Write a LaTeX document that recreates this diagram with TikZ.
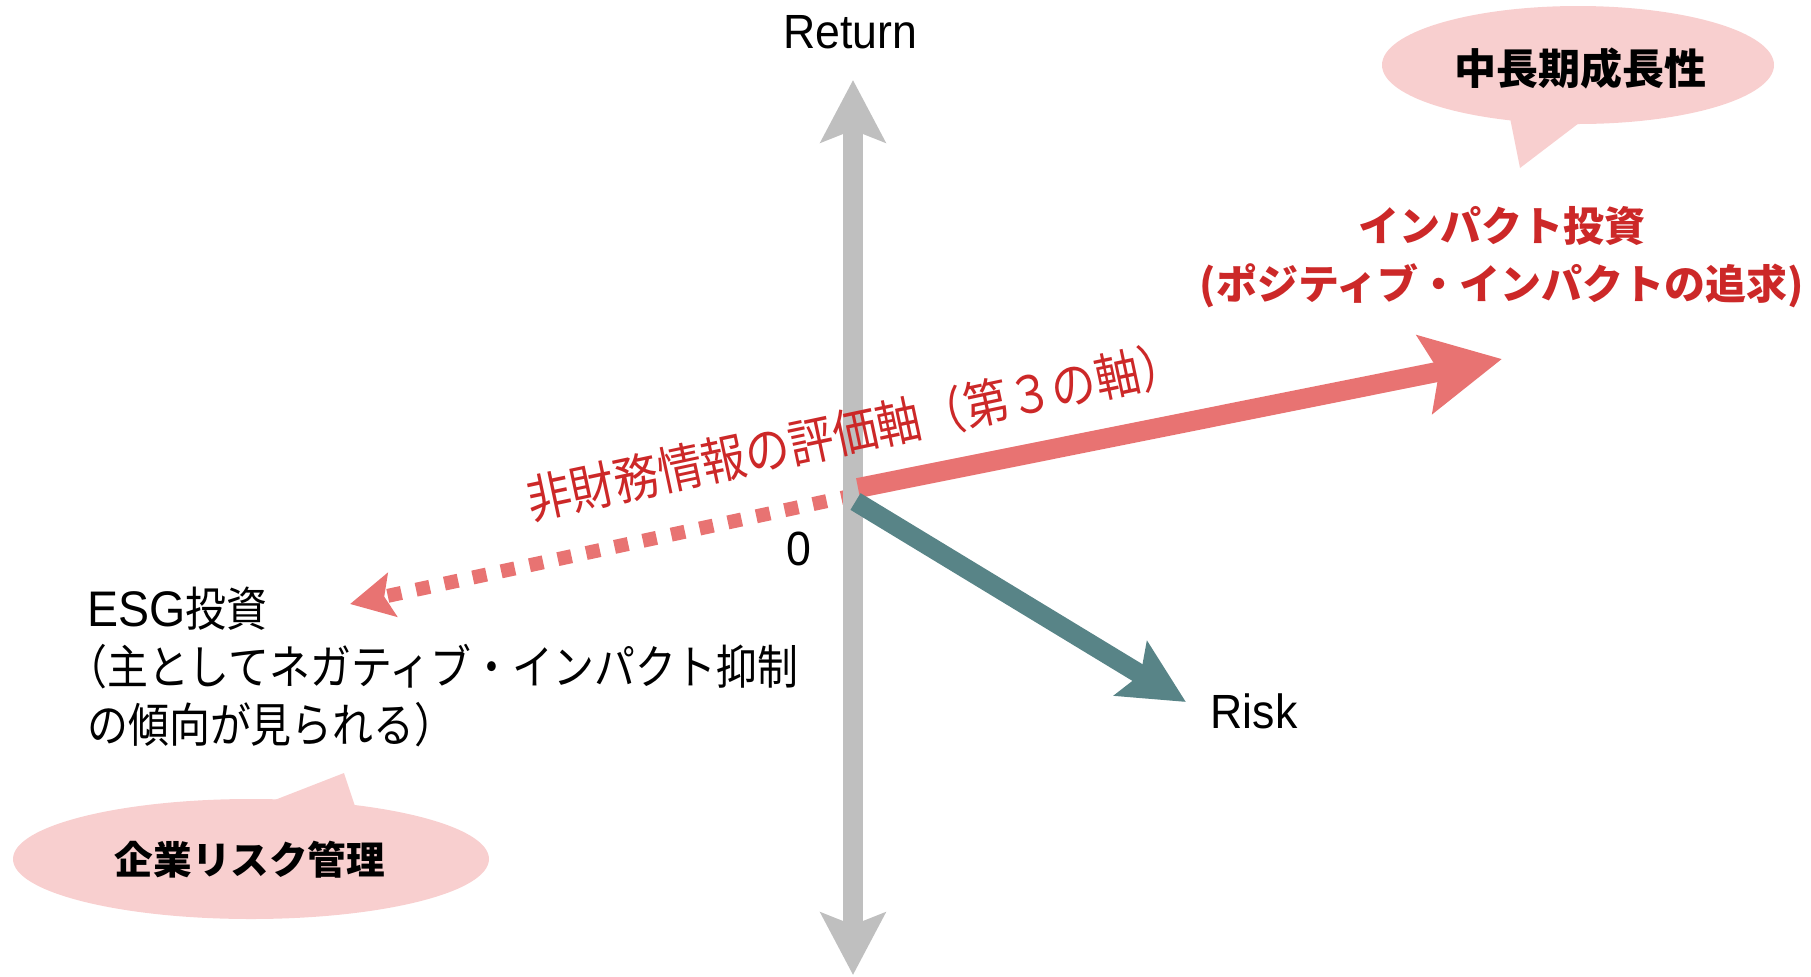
\documentclass[tikz,border=0pt]{standalone}
\usepackage{fontspec}
\setmainfont{Liberation Sans}
\newfontfamily\lat[FakeStretch=0.93]{Liberation Sans}
\newfontfamily\jp{Noto Sans CJK JP}
\newfontfamily\jpc[FakeStretch=0.87]{Noto Sans CJK JP}
\usetikzlibrary{arrows.meta}
\definecolor{axisgray}{RGB}{191,191,191}
\definecolor{arrowred}{RGB}{232,115,114}
\definecolor{textred}{RGB}{204,40,40}
\definecolor{tealarrow}{RGB}{88,132,135}
\definecolor{bubblepink}{RGB}{248,207,207}
\begin{document}
\begin{tikzpicture}[x=0.5pt,y=-0.5pt,
  axislabel/.style={font=\lat\fontsize{24}{28}\selectfont, text=black, inner sep=0pt},
  bubbletext/.style={font=\jp\bfseries\fontsize{21}{25}\selectfont, text=black, inner sep=0pt},
  bubblefill/.style={fill=bubblepink, draw=none}]
\useasboundingbox (0,0) rectangle (1811,976);

% speech bubbles
\fill[bubblefill] (1578,65) ellipse [x radius=196, y radius=59];
\fill[bubblefill] (1510,118) -- (1520,168) -- (1583,120) -- cycle;
\fill[bubblefill] (251,859) ellipse [x radius=238, y radius=60];
\fill[bubblefill] (267,803) -- (344,773) -- (356,809) -- cycle;

% coordinates
\coordinate (top) at (853,80);
\coordinate (bot) at (853,975);
\coordinate (oimp) at (858,488);
\coordinate (imptip) at (1502,359);
\coordinate (oesg) at (855,495);
\coordinate (esgtip) at (350,604);
\coordinate (orisk) at (855.5,501.5);
\coordinate (risktip) at (1186,702);

% dotted ESG arrow
\draw[arrowred, line width=7pt, dash pattern=on 7pt off 7.5pt,
  -{Stealth[length=21.5pt,width=22pt,inset=4pt]}] (oesg) -- (esgtip);
% vertical axis
\draw[axisgray, line width=10pt,
  {Stealth[length=31pt,width=32pt,inset=6pt]}-{Stealth[length=31pt,width=32pt,inset=6pt]}] (bot) -- (top);
% impact arrow
\draw[arrowred, line width=10pt,
  -{Stealth[length=39pt,width=39pt,inset=7pt]}] (oimp) -- (imptip);
% risk arrow
\draw[tealarrow, line width=9.75pt,
  -{Stealth[length=32pt,width=31pt,inset=5.5pt]}] (orisk) -- (risktip);

% labels
\node[axislabel] (ret) at (850,32) {Return};
\node[axislabel] (risk) at (1254,711) {Risk};
\node[axislabel] (zero) at (799,549) {0};

\node[font=\jpc\fontsize{23.5}{29}\selectfont, align=left, anchor=west, inner sep=0pt] (esg) at (87,667)
  {{\lat\fontsize{25}{29}\selectfont ESG}投資\\\kern-0.45em（主としてネガティブ・インパクト抑制\\の傾向が見られる）};

\node[font=\jp\bfseries\fontsize{20.5}{29}\selectfont, text=textred, align=center, inner sep=0pt] (imp) at (1502,257)
  {インパクト投資\\(ポジティブ・インパクトの追求)};

\node[font=\jpc\fontsize{25.7}{30}\selectfont, text=textred, rotate=12, inner sep=0pt] (thirdaxis) at (855,431)
  {非財務情報の評価軸（第３の軸）};

\node[bubbletext] (b1) at (1580,68) {中長期成長性};
\node[bubbletext, font=\jp\bfseries\fontsize{19.3}{25}\selectfont] (b2) at (250,860) {企業リスク管理};
\end{tikzpicture}
\end{document}
